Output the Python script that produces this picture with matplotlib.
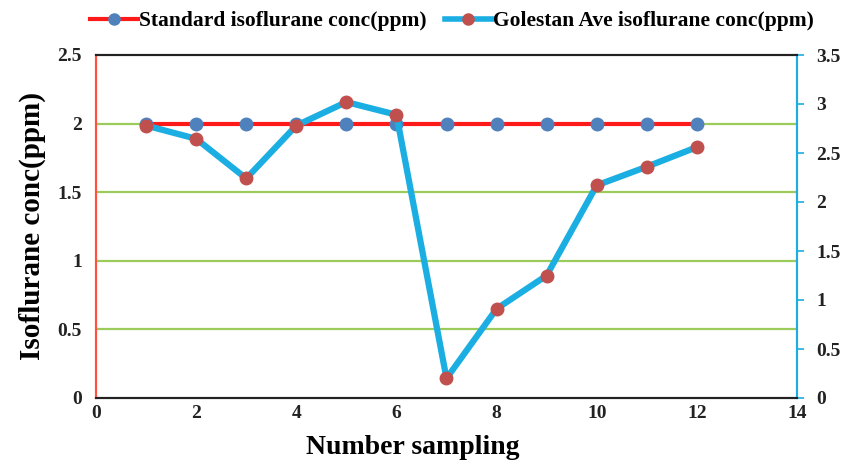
import matplotlib
matplotlib.use("Agg")
import matplotlib.pyplot as plt
from matplotlib.lines import Line2D

samples = [1, 2, 3, 4, 5, 6, 7, 8, 9, 10, 11, 12]
standard = [2, 2, 2, 2, 2, 2, 2, 2, 2, 2, 2, 2]
golestan = [2.78, 2.645, 2.24, 2.78, 3.02, 2.89, 0.20, 0.91, 1.25, 2.17, 2.36, 2.56]
left_ticks = [0, 0.5, 1, 1.5, 2, 2.5]
left_labels = ["0", "0.5", "1", "1.5", "2", "2.5"]
right_ticks = [0, 0.5, 1, 1.5, 2, 2.5, 3, 3.5]
right_labels = ["0", "0.5", "1", "1.5", "2", "2.5", "3", "3.5"]
x_ticks = [0, 2, 4, 6, 8, 10, 12, 14]

plt.rcParams['font.family'] = ['Liberation Serif', 'DejaVu Serif']

RED = '#FF1A1A'
BLUEDOT = '#4F81BD'
CYAN = '#1AAEE3'
REDDOT = '#C0504D'

fig = plt.figure(figsize=(8.48, 4.62), dpi=100)
ax = fig.add_axes([96/848, 1 - 398/462, (797-96)/848, (398-55)/462])
ax2 = ax.twinx()

ax.set_xlim(0, 14)
ax.set_ylim(0, 2.5)
ax2.set_ylim(0, 3.5)

for y in [0.5, 1, 1.5, 2]:
    ax.axhline(y, color='#9BCB5A', lw=1.6, zorder=0)

ax.plot(samples, standard, color=RED, lw=3, marker='o', ms=9,
        mfc=BLUEDOT, mec=BLUEDOT, zorder=3)
ax2.plot(samples, golestan, color=CYAN, lw=4.5, marker='o', ms=9,
         mfc=REDDOT, mec=REDDOT, zorder=4)

ax.set_xticks(x_ticks)
ax.set_xticklabels([str(t) for t in x_ticks], fontsize=14, fontweight='bold', color='#222222')
ax.set_yticks(left_ticks)
ax.set_yticklabels(left_labels, fontsize=14, fontweight='bold', color='#222222')
ax2.set_yticks(right_ticks)
ax2.set_yticklabels(right_labels, fontsize=14, fontweight='bold', color='#222222')

ax.tick_params(axis='x', length=0, pad=5)
ax.tick_params(axis='y', length=0, pad=10)
ax2.tick_params(axis='y', length=5, width=1.2, color=CYAN, pad=9, direction='out')

for a in (ax, ax2):
    a.spines['top'].set_color('#222222')
    a.spines['bottom'].set_color('#222222')
    a.spines['top'].set_linewidth(1.5)
    a.spines['bottom'].set_linewidth(1.5)
    a.spines['left'].set_color('#FF5040')
    a.spines['left'].set_linewidth(1.5)
    a.spines['right'].set_color(CYAN)
    a.spines['right'].set_linewidth(1.5)

ax.set_ylabel("Isoflurane conc(ppm)", fontsize=21, fontweight='bold', labelpad=8)
ax.set_xlabel("Number sampling", fontsize=20, fontweight='bold')
ax.xaxis.set_label_coords((413 - 96) / 701, -(447 - 398) / 343)
ax.xaxis.label.set_va('center')

handles = [
    Line2D([], [], color=RED, lw=3, marker='o', ms=8, mfc=BLUEDOT, mec=BLUEDOT),
    Line2D([], [], color=CYAN, lw=4, marker='o', ms=8, mfc=REDDOT, mec=REDDOT),
]
fig.legend(handles, ["Standard isoflurane conc(ppm)", "Golestan Ave isoflurane conc(ppm)"],
           loc='center', bbox_to_anchor=(452/848, 1 - 21/462), ncol=2, frameon=False,
           prop={'size': 15.5, 'weight': 'bold'}, handlelength=2.2, handletextpad=0.05,
           columnspacing=0.85, borderpad=0.2)

fig.savefig("out.png", dpi=100)
